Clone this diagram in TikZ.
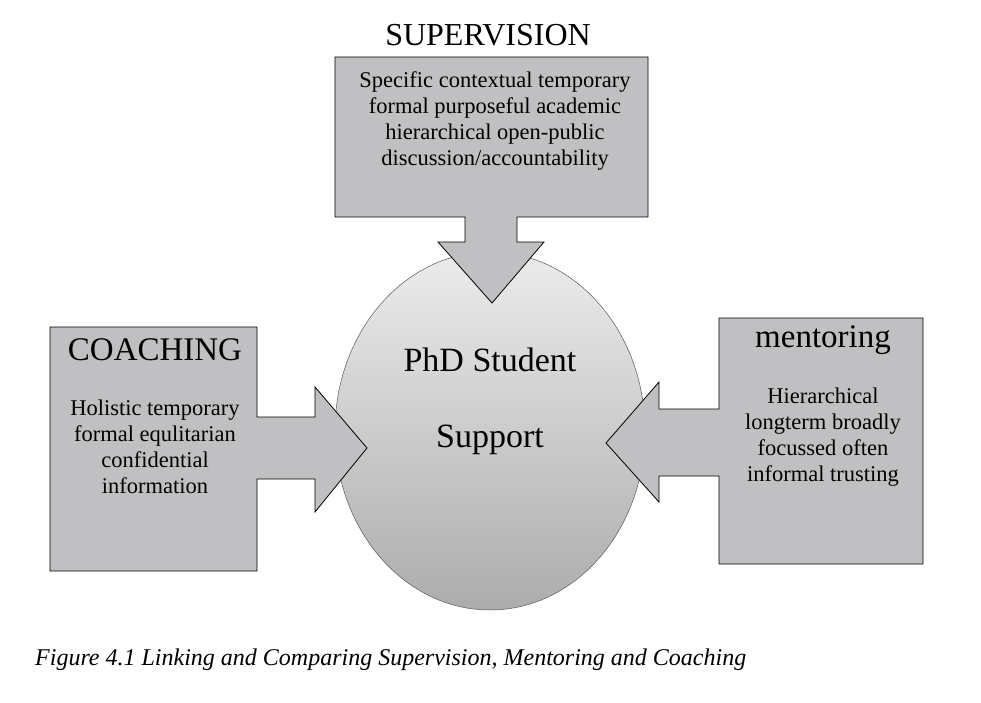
\documentclass[tikz,border=0pt]{standalone}
\usepackage{fontspec}
\setmainfont{Liberation Serif}
\definecolor{boxg}{HTML}{C0C0C3}
\begin{document}
\begin{tikzpicture}[x=1pt,y=-1pt,
  shapebox/.style={fill=boxg,draw=black,line width=0.8pt},
  body/.style={align=center,font=\fontsize{22.5}{26}\selectfont,inner sep=0pt},
  head/.style={font=\fontsize{33}{34}\selectfont,inner sep=0pt}]
\useasboundingbox (0,0) rectangle (981,703);
% ellipse
\shade[top color=gray!15,bottom color=gray!65,draw=gray!70!black,line width=0.5pt] (490,431) ellipse [x radius=155,y radius=179];
\node (phd) at (490,360) {\fontsize{34}{36}\selectfont PhD Student};
\node (sup) at (490,440) {\fontsize{34}{36}\selectfont Support};
% supervision
\draw[shapebox] (335,57) -- (648,57) -- (648,217) -- (517,217) -- (517,242) -- (544,242) -- (492,303) -- (438,242) -- (465,242) -- (465,217) -- (335,217) -- cycle;
\node[head,font=\fontsize{32}{34}\selectfont] (supt) at (488,35) {SUPERVISION};
\node[body] (supb) at (495,121) {Specific contextual temporary\\formal purposeful academic\\hierarchical open-public\\discussion/accountability};
% coaching
\draw[shapebox] (50,327) -- (257,327) -- (257,417) -- (315,417) -- (315,387) -- (367,448) -- (315,512) -- (315,479) -- (257,479) -- (257,571) -- (50,571) -- cycle;
\node[head] (coh) at (155,350) {COACHING};
\node[body] (cob) at (155,447) {Holistic temporary\\formal equlitarian\\confidential\\information};
% mentoring
\draw[shapebox] (719,318) -- (923,318) -- (923,564) -- (719,564) -- (719,476) -- (659,476) -- (659,502) -- (606,443) -- (659,382) -- (659,409) -- (719,409) -- cycle;
\node[head] (meh) at (823,340) {mentoring};
\node[body] (meb) at (823,437) {Hierarchical\\longterm broadly\\focussed often\\informal trusting};
% caption
\node[anchor=west,inner sep=0pt,font=\fontsize{24}{26}\selectfont\itshape] (cap) at (35,660) {Figure 4.1 Linking and Comparing Supervision, Mentoring and Coaching};
\end{tikzpicture}
\end{document}
